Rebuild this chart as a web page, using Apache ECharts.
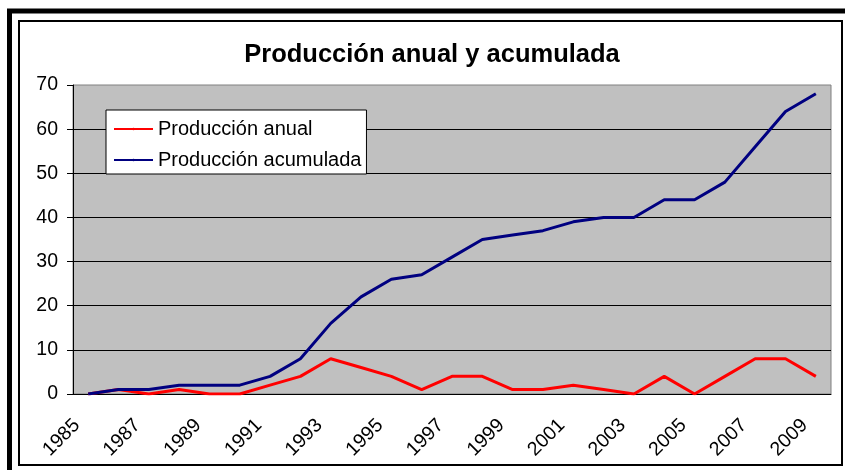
<!DOCTYPE html>
<html>
<head>
<meta charset="utf-8">
<title>Producción anual y acumulada</title>
<script src="https://cdn.jsdelivr.net/npm/echarts@6/dist/echarts.min.js"></script>
<style>
  html, body { margin: 0; padding: 0; background: #fff; }
  #chart { width: 845px; height: 470px; }
</style>
</head>
<body>
<div id="chart"></div>
<script>
// datos
const years = ['1985', '1986', '1987', '1988', '1989', '1990', '1991', '1992', '1993', '1994',
  '1995', '1996', '1997', '1998', '1999', '2000', '2001', '2002', '2003', '2004',
  '2005', '2006', '2007', '2008', '2009'];
const anual = [0, 1, 0, 1, 0, 0, 2, 4, 8, 6, 4, 1, 4, 4, 1, 1, 2, 1, 0, 4, 0, 4, 8, 8, 4];
const acumulada = [0, 1, 1, 2, 2, 2, 4, 8, 16, 22, 26, 27, 31, 35, 36, 37, 39, 40, 40, 44, 44, 48, 56, 64, 68];

const font = '"Liberation Sans", Arial, sans-serif';

const chartDom = document.getElementById('chart');
const myChart = echarts.init(chartDom);

const option = {
  animation: false,
  // marcos exteriores (captura de Excel)
  graphic: [
    {
      type: 'rect',
      shape: { x: 9.5, y: 11, width: 900, height: 500 },
      style: { fill: 'none', stroke: '#000', lineWidth: 5 },
      silent: true
    },
    {
      type: 'rect',
      shape: { x: 19, y: 21, width: 823, height: 444 },
      style: { fill: 'none', stroke: '#000', lineWidth: 2 },
      silent: true
    }
  ],
  title: {
    text: 'Producción anual y acumulada',
    left: 427,
    textAlign: 'center',
    top: 37,
    textStyle: { fontFamily: font, fontSize: 25.5, fontWeight: 'bold', color: '#000' }
  },
  legend: {
    left: 106,
    top: 110,
    orient: 'vertical',
    backgroundColor: '#fff',
    borderColor: '#000',
    borderWidth: 1,
    borderRadius: 0,
    padding: [9, 5, 4, 7],
    itemWidth: 39,
    itemHeight: 3,
    itemGap: 11,
    textStyle: { fontFamily: font, fontSize: 20, color: '#000', lineHeight: 20 }
  },
  grid: {
    left: 73,
    top: 85,
    right: 14,
    bottom: 76,
    show: true,
    backgroundColor: '#c0c0c0',
    borderColor: '#808080',
    borderWidth: 1
  },
  xAxis: {
    type: 'category',
    data: years,
    boundaryGap: true,
    axisLine: { lineStyle: { color: '#000', width: 1 } },
    axisTick: { interval: 0, length: 7, lineStyle: { color: '#000' } },
    axisLabel: {
      interval: 1,
      rotate: 45,
      margin: 17,
      padding: [0, 16, 0, 0],
      fontFamily: font,
      fontSize: 19.5,
      color: '#000'
    }
  },
  yAxis: {
    type: 'value',
    min: 0,
    max: 70,
    interval: 10,
    axisLine: { show: true, lineStyle: { color: '#000', width: 1 } },
    axisTick: { show: true, length: 6, lineStyle: { color: '#000' } },
    axisLabel: { margin: 15, fontFamily: font, fontSize: 19.5, color: '#000' },
    splitLine: { showMaxLine: false, lineStyle: { color: '#000', width: 1 } }
  },
  series: [
    {
      name: 'Producción anual',
      type: 'line',
      data: anual,
      symbol: 'none',
      color: '#ff0000',
      lineStyle: { width: 3, color: '#ff0000' }
    },
    {
      name: 'Producción acumulada',
      type: 'line',
      data: acumulada,
      symbol: 'none',
      color: '#000080',
      lineStyle: { width: 3, color: '#000080' }
    }
  ]
};

option && myChart.setOption(option);
</script>
</body>
</html>
